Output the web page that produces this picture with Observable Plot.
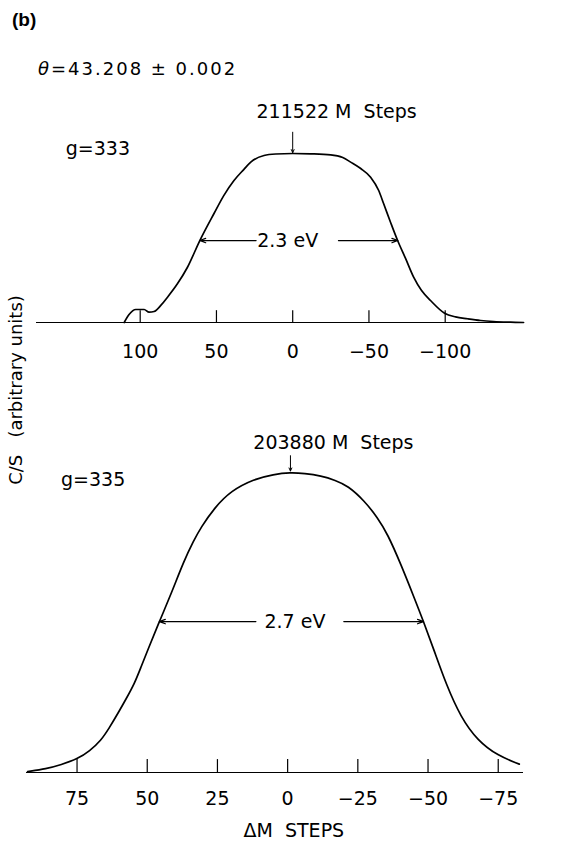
<!DOCTYPE html>
<html>
<head>
<meta charset="utf-8">
<script src="https://cdn.jsdelivr.net/npm/d3@7"></script>
<script src="https://cdn.jsdelivr.net/npm/@observablehq/plot@0.6"></script>
<style>
  body { margin: 0; background: #fff; }
  #fig { position: relative; width: 584px; height: 841px; color: #000;
         font-family: "DejaVu Sans", "Liberation Sans", sans-serif; }
  #tag { position: absolute; left: 12px; top: 10px; font: bold 19px "Liberation Sans", Arial, sans-serif; line-height: 19px; }
  #theta { position: absolute; left: 38px; top: 60px; font-size: 18px; line-height: 18px; letter-spacing: 2px; }
  #ylab { position: absolute; left: 16px; top: 390px; white-space: pre; font-size: 18px; line-height: 18px;
          transform: translate(-50%, -50%) rotate(-90deg); }
  .panel { position: absolute; left: 0; }
  #top { top: 90px; }
  #bottom { top: 370px; }
</style>
</head>
<body>
<div id="fig">
  <div id="tag">(b)</div>
  <div id="theta"><i>θ</i>=43.208 ± 0.002</div>
  <div id="ylab">C/S   (arbitrary units)</div>
  <div id="top" class="panel"></div>
  <div id="bottom" class="panel"></div>
</div>
<script>
// Reflection g = 333: counting rate vs. offset from the peak position (M steps)
const topSteps  = [110.5, 107.3, 102.9, 97.4, 94.2, 90.9, 86.5, 82.1, 75.6, 69,
                   60.9, 51.6, 45.2, 38.5, 32.1, 27.5, 18.8, 11.1, 0, -11.8,
                   -24.9, -32.8, -38, -44.6, -51.1, -56.4, -59.6, -64.2, -68.8, -74,
                   -79.3, -84.5, -90.4, -99.6, -106.8, -114.7, -123.2, -131.7, -142.9, -151.4];
const topCounts = [0, 4.7, 7.7, 7.7, 6.1, 6.5, 10.1, 15, 22.9, 32.7,
                   48.5, 64.5, 75.1, 84, 90.5, 94.9, 98.8, 99.7, 100, 99.8,
                   99.2, 97.6, 94.9, 91.1, 86, 78.1, 70.4, 59.2, 48.5, 37.9,
                   26.8, 18.9, 13, 5.5, 3.3, 2.2, 1.2, 0.6, 0.2, 0];
const topTicks = [100, 50, 0, -50, -100];
const topPeakLabel = "211522 M  Steps";
const topOrder = "g=333";
const topWidth = "2.3 eV";
const topHalf = [61, -69];          // half-maximum crossings (steps)

// Reflection g = 335
const bottomSteps  = [92.6, 86, 80.7, 74.8, 70.5, 66.5, 63.5, 60.5, 57.5, 54.6,
                      52.2, 49.9, 45.7, 41.5, 36.9, 33.5, 30.9, 26, 20.2, 12,
                      5, -1, -6, -11.9, -17, -21.4, -27.3, -32, -35.6, -40.3,
                      -45.1, -48.4, -52.2, -56.4, -61.7, -67.7, -74.8, -82.5];
const bottomCounts = [0.3, 1.2, 2.6, 4.5, 7.2, 10.6, 14.9, 19.6, 24.6, 29.5,
                      35.2, 40.6, 50.3, 59.5, 70.6, 77.2, 81.7, 88.3, 93.9, 97.8,
                      99.4, 100, 99.7, 98.9, 97.4, 95.6, 90.6, 85, 79.5, 69.5,
                      58.2, 50.3, 40.6, 29.5, 18.3, 10.6, 5.6, 2.8];
const bottomTicks = [75, 50, 25, 0, -25, -50, -75];
const bottomPeakLabel = "203880 M  Steps";
const bottomOrder = "g=335";
const bottomWidth = "2.7 eV";
const bottomHalf = [45.7, -48.4];
const xLabel = "ΔM  STEPS";

const FONT = '"DejaVu Sans", "Liberation Sans", sans-serif';
const fmt = d => d < 0 ? "\u2212" + (-d) : String(d);
// rows sorted by step so the curve runs left-to-right in data space
const rows = (xs, ys) => xs.map((x, i) => ({step: x, count: ys[i]})).sort((a, b) => a.step - b.step);

function panel({steps, counts, curve, ticks, tickLen, domain, margins, height, peakX, peakLabel, peakLabelX, peakLabelY, arrowTop,
                order, orderX, orderY, width, widthX, half, halfY, gap, tickPad, extra = []}) {
  const [l, r] = gap;
  return Plot.plot({
    width: 584, height,
    marginLeft: margins[0], marginRight: margins[1], marginTop: margins[2], marginBottom: margins[3],
    x: {domain, axis: null},
    y: {domain: [0, 100], axis: null},
    style: {fontFamily: FONT, fontSize: "19px", color: "#000", background: "transparent", overflow: "visible"},
    marks: [
      Plot.ruleY([0], {stroke: "#000", strokeWidth: 1.2}),
      Plot.ruleX(ticks, {y1: 0, y2: tickLen, stroke: "#000", strokeWidth: 1.2}),
      Plot.axisX(ticks, {tickSize: 0, tickPadding: tickPad, tickFormat: fmt, fontSize: 19, label: null}),
      Plot.line(rows(steps, counts), {x: "step", y: "count", curve, stroke: "#000", strokeWidth: 1.7}),
      // peak position marker
      Plot.arrow([peakX], {x: d => d, y1: arrowTop, y2: 100.5, stroke: "#000", strokeWidth: 1, headLength: 5, headAngle: 50}),
      Plot.text([peakLabel], {x: peakLabelX, y: peakLabelY, text: d => d, fontSize: 19, fill: "#000", lineAnchor: "middle"}),
      Plot.text([order], {x: orderX, y: orderY, text: d => d, fontSize: 19, fill: "#000", textAnchor: "start", lineAnchor: "middle"}),
      // full width at half maximum
      Plot.arrow([{from: l, to: half[0]}, {from: r, to: half[1]}],
                 {x1: "from", x2: "to", y1: halfY, y2: halfY, stroke: "#000", strokeWidth: 1.2, headLength: 8, headAngle: 40}),
      Plot.text([width], {x: widthX, y: halfY, text: d => d, fontSize: 19, fill: "#000", lineAnchor: "middle"}),
      ...extra
    ]
  });
}

document.getElementById("top").append(panel({
  steps: topSteps, counts: topCounts, curve: "monotone-x", ticks: topTicks, tickLen: 7,
  domain: [168, -152], margins: [36, 60, 63, 48], height: 280,
  peakX: 0, peakLabel: topPeakLabel, peakLabelX: -28.8, peakLabelY: 124.6, arrowTop: 112.6,
  order: topOrder, orderX: 148.8, orderY: 103, width: topWidth, widthX: 3.3,
  half: topHalf, halfY: 48.5, gap: [24, -30], tickPad: 22
}));

document.getElementById("bottom").append(panel({
  steps: bottomSteps, counts: bottomCounts, curve: "basis", ticks: bottomTicks, tickLen: 4.3,
  domain: [93, -84], margins: [26, 61, 102, 69], height: 471,
  peakX: -1, peakLabel: bottomPeakLabel, peakLabelX: -16.3, peakLabelY: 109.9, arrowTop: 105.6,
  order: bottomOrder, orderX: 80.7, orderY: 97.6, width: bottomWidth, widthX: -2.6,
  half: bottomHalf, halfY: 50.3, gap: [11.3, -20], tickPad: 19,
  extra: [Plot.text([xLabel], {x: -2.2, y: 0, dy: 58, text: d => d, fontSize: 19, fill: "#000", lineAnchor: "middle"})]
}));
</script>
</body>
</html>
